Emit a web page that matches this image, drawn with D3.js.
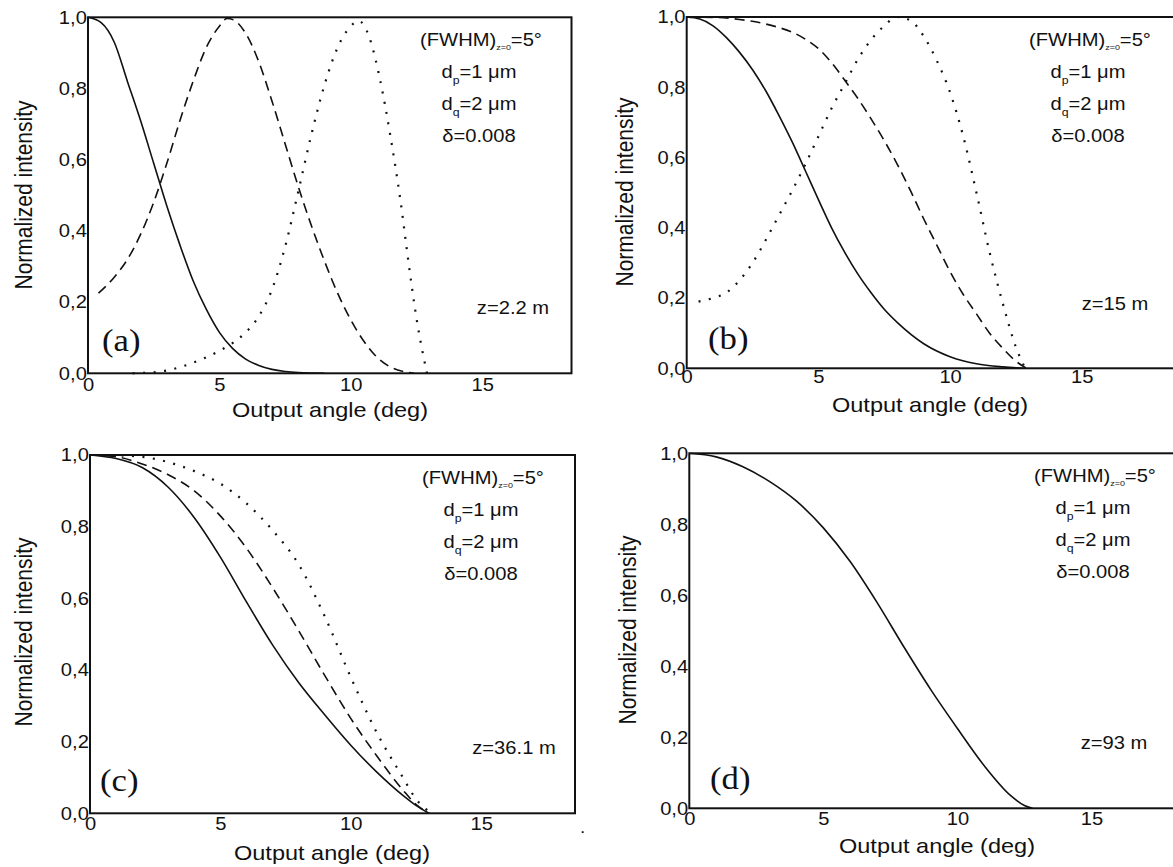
<!DOCTYPE html>
<html>
<head>
<meta charset="utf-8">
<script src="https://cdn.jsdelivr.net/npm/d3@7"></script>
<style>
  html, body { margin: 0; padding: 0; background: #fff; }
  svg { display: block; }
  text { font-family: "Liberation Sans", Arial, sans-serif; fill: #111; }
</style>
</head>
<body>
<svg id="chart" width="1173" height="867"></svg>
<script>
// ---------------- data ----------------
const xTicks = [0, 5, 10, 15];
const yTicks = [0, 0.2, 0.4, 0.6, 0.8, 1.0];
const xLabel = "Output angle (deg)";
const yLabel = "Normalized intensity";
const panelLetters = ["(a)", "(b)", "(c)", "(d)"];
const distances = ["z=2.2 m", "z=15 m", "z=36.1 m", "z=93 m"];

// panel (a), z = 2.2 m
const aSolid = [[0,1],[0.5,0.985],[1,0.93],[1.5,0.82],[2,0.71],[2.5,0.59],[3,0.47],[3.5,0.36],[4,0.26],[4.5,0.18],[5,0.115],[5.5,0.07],[6,0.04],[6.5,0.022],[7,0.011],[7.5,0.005],[8,0.002],[9,0]];
const aDashed = [[0.4,0.225],[1,0.27],[1.5,0.32],[2,0.39],[2.5,0.48],[3,0.59],[3.5,0.71],[4,0.82],[4.5,0.915],[5,0.975],[5.3,0.997],[5.6,0.99],[6,0.955],[6.5,0.875],[7,0.765],[7.5,0.645],[8,0.525],[8.5,0.415],[9,0.315],[9.5,0.225],[10,0.15],[10.5,0.09],[11,0.045],[11.5,0.018],[12,0.005],[12.4,0]];
const aDotted = [[1.7,0],[2.5,0.003],[3,0.008],[3.5,0.017],[4,0.03],[4.5,0.045],[5,0.063],[5.5,0.085],[6,0.115],[6.5,0.16],[7,0.235],[7.5,0.355],[8,0.51],[8.5,0.67],[9,0.81],[9.5,0.915],[10,0.975],[10.3,0.99],[10.7,0.945],[11.1,0.83],[11.5,0.67],[11.9,0.48],[12.2,0.31],[12.5,0.155],[12.9,0]];

// panel (b), z = 15 m
const bSolid = [[0,1],[0.5,0.994],[1,0.975],[1.5,0.942],[2,0.9],[2.5,0.85],[3,0.79],[3.5,0.72],[4,0.645],[4.5,0.563],[5,0.48],[5.5,0.4],[6,0.33],[6.5,0.268],[7,0.215],[7.5,0.168],[8,0.13],[9,0.07],[10,0.033],[11,0.013],[12,0.004],[12.8,0]];
const bDashed = [[0,1],[1,0.999],[2,0.993],[3,0.98],[3.5,0.97],[4,0.957],[4.5,0.937],[5,0.91],[5.5,0.87],[6,0.82],[6.5,0.768],[7,0.71],[7.5,0.648],[8,0.58],[8.5,0.505],[9,0.425],[9.5,0.35],[10,0.275],[10.5,0.21],[11,0.155],[11.5,0.1],[12,0.057],[12.5,0.02],[12.9,0]];
const bDotted = [[0.45,0.19],[1,0.2],[1.5,0.215],[2,0.25],[2.5,0.3],[3,0.365],[3.5,0.435],[4,0.505],[4.5,0.58],[5,0.66],[5.5,0.74],[6,0.81],[6.5,0.88],[7,0.935],[7.5,0.975],[8,1.0],[8.5,0.99],[9,0.945],[9.5,0.875],[10,0.785],[10.5,0.66],[11,0.5],[11.5,0.33],[12,0.185],[12.5,0.06],[12.85,0]];

// panel (c), z = 36.1 m
const cSolid = [[0,1],[1,0.99],[2,0.965],[3,0.91],[4,0.825],[5,0.715],[6,0.59],[7,0.47],[8,0.365],[9,0.275],[10,0.19],[11,0.115],[12,0.05],[12.5,0.022],[13,0]];
const cDashed = [[0,1],[1,0.995],[2,0.975],[3,0.945],[4,0.9],[5,0.83],[6,0.74],[7,0.63],[8,0.51],[9,0.385],[10,0.265],[11,0.16],[12,0.065],[12.5,0.025],[13,0]];
const cDotted = [[0,1],[1,0.999],[2,0.995],[3,0.98],[4,0.955],[5,0.92],[6,0.865],[7,0.79],[8,0.695],[9,0.55],[10,0.38],[11,0.225],[12,0.1],[12.5,0.04],[13.1,0]];

// panel (d), z = 93 m
const dSolid = [[0,1],[1,0.99],[2,0.962],[3,0.92],[4,0.865],[5,0.79],[6,0.695],[7,0.58],[8,0.455],[9,0.335],[10,0.225],[11,0.12],[12,0.035],[12.5,0.008],[12.8,0]];

const seriesByPanel = [
  [aSolid, aDashed, aDotted],
  [bSolid, bDashed, bDotted],
  [cSolid, cDashed, cDotted],
  [dSolid]
];
const xMaxByPanel = [18.4, 18.5, 18.6, 18.5];

// ---------------- layout ----------------
const SX = 1.12; // horizontal stretch of the scanned lettering
const layout = [
  { left: 88,    top: 17.3,  right: 571.5, bottom: 373.3, padX: 4.5,
    ann: [481, 46], z: [513, 314], letter: [102, 351], xt: [330, 417], yt: [32, 195] },
  { left: 686.7, top: 17,    right: 1174,  bottom: 368.3, padX: 2,
    ann: [1090, 46], z: [1115, 310], letter: [708, 349], xt: [930, 412], yt: [633, 192] },
  { left: 90,    top: 455,   right: 575,   bottom: 813.3, padX: 4,
    ann: [483, 484], z: [514, 754], letter: [100, 791], xt: [332, 860], yt: [32, 632] },
  { left: 689.3, top: 453.3, right: 1185.3,bottom: 808.3, padX: 4,
    ann: [1095, 482], z: [1114, 749], letter: [710, 789], xt: [937, 853], yt: [636, 630] }
];
const lineStyles = [
  { dash: null,    width: 1.6 },
  { dash: "10,6",  width: 1.6 },
  { dash: "2,8.5", width: 2.2 }
];

const svg = d3.select("#chart");

function stretchedText(g, x, y, str, size, anchor, family) {
  const t = g.append("text")
    .attr("transform", `translate(${x},${y}) scale(${SX},1)`)
    .attr("text-anchor", anchor || "start")
    .style("font-size", size + "px");
  if (family) t.style("font-family", family);
  t.text(str);
  return t;
}

layout.forEach((L, i) => {
  const g = svg.append("g");
  const x = d3.scaleLinear().domain([0, xMaxByPanel[i]]).range([L.left, L.right]);
  const y = d3.scaleLinear().domain([0, 1]).range([L.bottom, L.top]);

  // curves
  const line = d3.line().x(d => x(d[0])).y(d => y(d[1])).curve(d3.curveMonotoneX);
  seriesByPanel[i].forEach((s, k) => {
    const st = lineStyles[k];
    g.append("path").datum(s)
      .attr("d", line)
      .attr("fill", "none")
      .attr("stroke", "#111")
      .attr("stroke-width", st.width)
      .attr("stroke-dasharray", st.dash);
  });

  // frame
  g.append("rect")
    .attr("x", L.left).attr("y", L.top)
    .attr("width", L.right - L.left).attr("height", L.bottom - L.top)
    .attr("fill", "none").attr("stroke", "#111").attr("stroke-width", 2);

  // axes
  const fmt = d => d.toFixed(1).replace(".", ",");
  const ya = g.append("g").attr("transform", `translate(${L.left},0)`)
    .call(d3.axisLeft(y).tickValues(yTicks).tickSize(0).tickPadding(1).tickFormat(fmt));
  const xa = g.append("g").attr("transform", `translate(0,${L.bottom})`)
    .call(d3.axisBottom(x).tickValues(xTicks).tickSize(0).tickPadding(L.padX).tickFormat(d3.format("d")));
  [ya, xa].forEach(a => {
    a.select(".domain").remove();
    a.selectAll("text")
      .style("font-size", "18px")
      .style("font-family", "'Liberation Sans', Arial, sans-serif")
      .attr("fill", "#111")
      .attr("transform", `scale(${SX},1)`);
  });

  // axis titles
  stretchedText(g, L.xt[0], L.xt[1], xLabel, 21, "middle");
  g.append("text")
    .attr("transform", `translate(${L.yt[0]},${L.yt[1]}) scale(${SX},1) rotate(-90)`)
    .attr("text-anchor", "middle")
    .style("font-size", "21px")
    .text(yLabel);

  // annotation block
  const ax = L.ann[0], ay = L.ann[1];
  const t1 = g.append("text").attr("transform", `translate(${ax},${ay}) scale(${SX},1)`)
    .attr("text-anchor", "middle").style("font-size", "18px");
  t1.append("tspan").text("(FWHM)");
  t1.append("tspan").attr("dy", 4).style("font-size", "8px").text("z=0");
  t1.append("tspan").attr("dy", -4).text("=5°");

  const t2 = g.append("text").attr("transform", `translate(${ax - 2},${ay + 32}) scale(${SX},1)`)
    .attr("text-anchor", "middle").style("font-size", "18px");
  t2.append("tspan").text("d");
  t2.append("tspan").attr("dy", 6).style("font-size", "11px").text("p");
  t2.append("tspan").attr("dy", -6).text("=1 μm");

  const t3 = g.append("text").attr("transform", `translate(${ax - 2},${ay + 64}) scale(${SX},1)`)
    .attr("text-anchor", "middle").style("font-size", "18px");
  t3.append("tspan").text("d");
  t3.append("tspan").attr("dy", 6).style("font-size", "11px").text("q");
  t3.append("tspan").attr("dy", -6).text("=2 μm");

  stretchedText(g, ax - 2, ay + 96, "δ=0.008", 18, "middle");

  // distance label and panel letter
  stretchedText(g, L.z[0], L.z[1], distances[i], 18, "middle");
  stretchedText(g, L.letter[0], L.letter[1], panelLetters[i], 31, "start", "'Liberation Serif', 'Times New Roman', serif");
});

// stray mark present in the scanned figure
stretchedText(svg, 580, 833, ".", 17, "start");
</script>
</body>
</html>
